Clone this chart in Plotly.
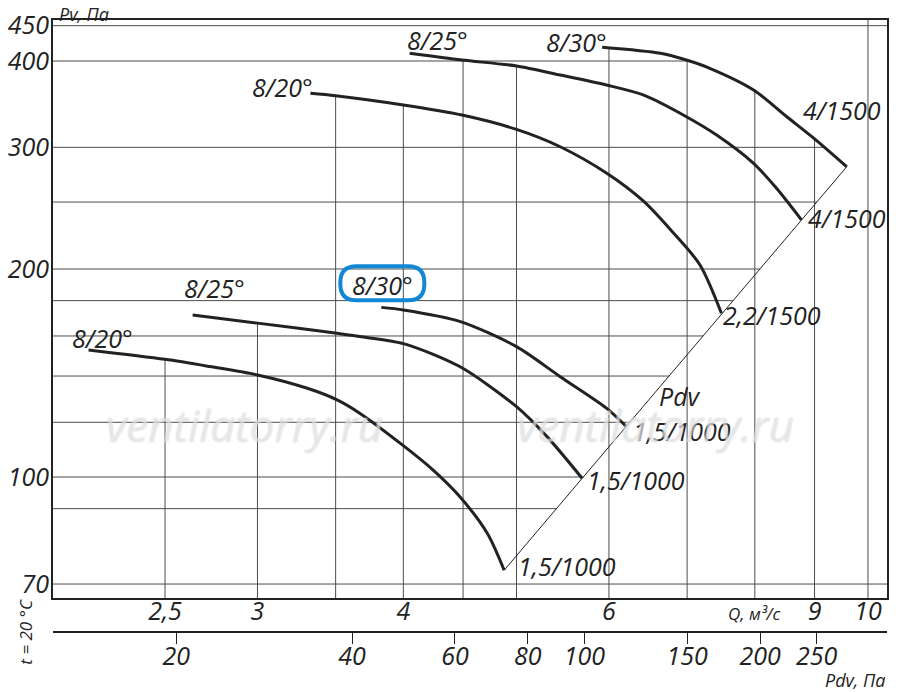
import numpy as np
import plotly.graph_objects as go

# Fan curves: Q, m3/s and Pv, Pa
# upper group (1500 rpm)
q_820_hi = [3.33, 3.50, 4.00, 4.49, 5.00, 5.45, 5.97, 6.42, 6.79, 7.18, 7.49]
p_820_hi = [359.2, 356.3, 345.5, 334.1, 318.5, 300.6, 275.4, 250.9, 227, 202.7, 172.6]
q_825_hi = [4.05, 4.49, 5.00, 5.45, 5.97, 6.42, 6.99, 7.42, 7.98, 8.35, 8.77]
p_825_hi = [410.4, 401.3, 393.4, 381.8, 369.3, 357.2, 332.2, 312.5, 284.4, 261.7, 235.6]
q_830_hi = [5.92, 6.64, 6.99, 7.32, 7.98, 8.52, 8.99, 9.59]
p_830_hi = [418.7, 410.4, 401.3, 390.4, 363.2, 332.2, 309.1, 281.2]

# lower group (1000 rpm)
q_820_lo = [2.15, 2.50, 2.73, 3.00, 3.31, 3.51, 3.67, 4.00, 4.24, 4.47, 4.72, 4.88]
p_820_lo = [152.7, 148, 144.5, 140.5, 134.4, 129.3, 123.7, 111, 102.4, 93.7, 82.9, 73.3]
q_825_lo = [2.64, 3.00, 3.51, 3.67, 4.00, 4.47, 5.00, 5.31, 5.69]
p_825_lo = [171.6, 167, 161.5, 159.7, 156, 144.5, 126.4, 114.4, 99.6]
q_830_lo = [3.83, 4.00, 4.47, 5.00, 5.45, 5.97, 6.21]
p_830_lo = [176, 174.5, 168, 154.4, 139.7, 125.8, 118.3]

# dynamic pressure line Pdv and its coefficient (Pdv = k * Q^2)
pdv_q = [4.88, 9.59]
pdv_p = [73.3, 281.2]
pdv_coef = 3.06

# axes
q_ticks = [2.5, 3, 4, 6, 9, 10]
q_ticklabels = ['2,5', '3', '4', '6', '9', '10']
q_grid = [2.5, 3, 3.5, 4, 4.5, 5, 6, 7, 8, 9, 10]
p_ticks = [70, 100, 200, 300, 400, 450]
p_grid = [70, 90, 100, 120, 140, 160, 180, 200, 250, 300, 400, 450]
pdv_ticks = [20, 40, 60, 80, 100, 150, 200, 250]

x_range = [0.3020, 1.0163]
y_range = [1.8249, 2.6614]
pdv_range = [np.log10(pdv_coef) + 2 * v for v in x_range]

curves = [
    (q_820_hi, p_820_hi, '8/20°', '2,2/1500'),
    (q_825_hi, p_825_hi, '8/25°', '4/1500'),
    (q_830_hi, p_830_hi, '8/30°', '4/1500'),
    (q_820_lo, p_820_lo, '8/20°', '1,5/1000'),
    (q_825_lo, p_825_lo, '8/25°', '1,5/1000'),
    (q_830_lo, p_830_lo, '8/30°', '1,5/1000'),
]

q_left, q_right = 10 ** x_range[0], 10 ** x_range[1]
p_bottom, p_top = 10 ** y_range[0], 10 ** y_range[1]


def top_at(q):
    # highest curve above a given Q, the vertical grid line stops there
    tops = []
    for cq, cp, _, _ in curves:
        if cq[0] <= q <= cq[-1]:
            tops.append(10 ** np.interp(np.log10(q), np.log10(cq), np.log10(cp)))
    return max(tops) if tops else p_top


def right_at(p):
    # right-most crossing of a curve or the Pdv line, horizontal grid stops there
    ends = []
    for cq, cp in [(c[0], c[1]) for c in curves] + [(pdv_q, pdv_p)]:
        if min(cp) <= p <= max(cp):
            order = np.argsort(cp)
            lp = np.log10(np.array(cp)[order])
            lq = np.log10(np.array(cq)[order])
            ends.append(10 ** np.interp(np.log10(p), lp, lq))
    return max(ends) if ends else q_right


gx, gy = [], []
for q in q_grid:
    gx += [q, q, None]
    gy += [p_bottom, top_at(q), None]
for p in p_grid:
    gx += [q_left, right_at(p), None]
    gy += [p, p, None]

fig = go.Figure()

fig.add_trace(go.Scatter(
    x=gx, y=gy, mode='lines',
    line=dict(color='#4d4d4d', width=1),
    hoverinfo='skip'
))

fig.add_trace(go.Scatter(
    x=pdv_q, y=pdv_p, mode='lines',
    line=dict(color='#222222', width=1),
    hoverinfo='skip'
))

for cq, cp, name, motor in curves:
    fig.add_trace(go.Scatter(
        x=cq, y=cp, mode='lines', name=name + ' ' + motor,
        line=dict(color='#222222', width=3, shape='spline', smoothing=0.8)
    ))

# hidden trace so the Pdv axis is built
fig.add_trace(go.Scatter(x=pdv_ticks, y=[None] * len(pdv_ticks), xaxis='x2',
                         mode='markers', hoverinfo='skip'))

label_font = dict(family='Open Sans', size=25, color='#222222', style='italic')

# (curve index, which end, text, xanchor, xshift, yshift)
curve_labels = [
    (0, 0, '8/20°', 'right', 5, 6),
    (1, 0, '8/25°', 'left', -5, 13),
    (2, 0, '8/30°', 'right', 7, 5),
    (3, 0, '8/20°', 'center', 14, 12),
    (4, 0, '8/25°', 'center', 22, 27),
    (5, 0, '8/30°', 'center', 1, 22),
    (0, -1, '2,2/1500', 'left', 0, -2),
    (1, -1, '4/1500', 'left', 5, 2),
    (2, -1, '4/1500', 'center', -5, 57),
    (3, -1, '1,5/1000', 'left', 12, 4),
    (4, -1, '1,5/1000', 'left', 3, -2),
    (5, -1, '1,5/1000', 'left', 5, -4),
]
for idx, end, text, xa, dx, dy in curve_labels:
    cq, cp = curves[idx][0], curves[idx][1]
    fig.add_annotation(x=np.log10(cq[end]), y=np.log10(cp[end]), text=text,
                       showarrow=False, xanchor=xa, yanchor='middle',
                       xshift=dx, yshift=dy, font=label_font)

fig.add_annotation(x=np.log10(6.9), y=np.log10(131), text='Pdv', showarrow=False,
                   xanchor='center', font=label_font)

# blue highlight round the lower 8/30° label
x0, x1, y0, y1, r = -41, 43, 7, 41, 16
box = (f'M {x0 + r},{y0} L {x1 - r},{y0} Q {x1},{y0} {x1},{y0 + r} '
       f'L {x1},{y1 - r} Q {x1},{y1} {x1 - r},{y1} L {x0 + r},{y1} '
       f'Q {x0},{y1} {x0},{y1 - r} L {x0},{y0 + r} Q {x0},{y0} {x0 + r},{y0} Z')
fig.add_shape(type='path', xref='x', yref='y', xsizemode='pixel', ysizemode='pixel',
              xanchor=q_830_lo[0], yanchor=p_830_lo[0],
              path=box, line=dict(color='#1287d6', width=4))

small_font = dict(family='Open Sans', size=18, color='#222222', style='italic')
fig.add_annotation(xref='paper', yref='paper', x=0.005, y=1.0, yshift=20,
                   text='Pv, Па', showarrow=False, xanchor='left', yanchor='top',
                   font=small_font)
fig.add_annotation(xref='x', yref='paper', x=np.log10(8.0), y=0.031,
                   text='Q, м³/с', showarrow=False, xanchor='center', yanchor='middle',
                   font=dict(family='Open Sans', size=17, color='#222222', style='italic'))
fig.add_annotation(xref='paper', yref='paper', x=1.0, y=-0.078,
                   text='Pdv, Па', showarrow=False, xanchor='right', yanchor='middle',
                   font=small_font)
fig.add_annotation(xref='paper', yref='paper', x=-0.034, y=0.0,
                   text='t = 20 °C', showarrow=False, textangle=-90,
                   xanchor='center', yanchor='middle',
                   font=dict(family='Open Sans', size=17, color='#222222', style='italic'))

# watermark
for wx in [0.230, 0.722]:
    fig.add_annotation(xref='paper', yref='paper', x=wx, y=0.338,
                       text='ventilatorry.ru', showarrow=False,
                       xanchor='center', yanchor='middle',
                       font=dict(family='Open Sans', size=44, style='italic',
                                 color='rgba(255,255,255,0.25)',
                                 shadow='1px 0 0 #cfcfcf, -1px 0 0 #cfcfcf, '
                                        '0 1px 0 #cfcfcf, 0 -1px 0 #cfcfcf'))

tick_font = dict(family='Open Sans', size=25, color='#222222', style='italic')

fig.update_layout(
    width=900, height=692,
    margin=dict(l=53, r=13, t=20, b=60),
    paper_bgcolor='white', plot_bgcolor='white',
    showlegend=False,
    xaxis=dict(type='log', range=x_range, tickvals=q_ticks, ticktext=q_ticklabels,
               showgrid=False, zeroline=False, showline=True, mirror=True,
               linecolor='#222222', linewidth=2, ticks='', anchor='y',
               tickfont=tick_font, ticklabelstandoff=-10, automargin=False),
    xaxis2=dict(type='log', range=pdv_range, overlaying='x', anchor='free',
                position=0, side='bottom', tickvals=pdv_ticks,
                ticktext=[str(v) for v in pdv_ticks], ticks='outside', ticklen=11,
                tickcolor='#222222', tickwidth=1, showline=True,
                linecolor='#222222', linewidth=2, showgrid=False, zeroline=False,
                tickfont=tick_font, ticklabelstandoff=-9, automargin=False),
    yaxis=dict(type='log', range=y_range, domain=[34 / 612, 1], tickvals=p_ticks,
               ticktext=[str(v) for v in p_ticks], showgrid=False, zeroline=False,
               showline=True, mirror=True, linecolor='#222222', linewidth=2,
               ticks='', anchor='x', tickfont=tick_font, ticklabelstandoff=-3,
               automargin=False),
)

# page body has a default 8px margin, drop it so the figure sits at the corner
fig.write_html('out.html', config={'displayModeBar': False},
               post_script="document.body.style.margin='0';")
